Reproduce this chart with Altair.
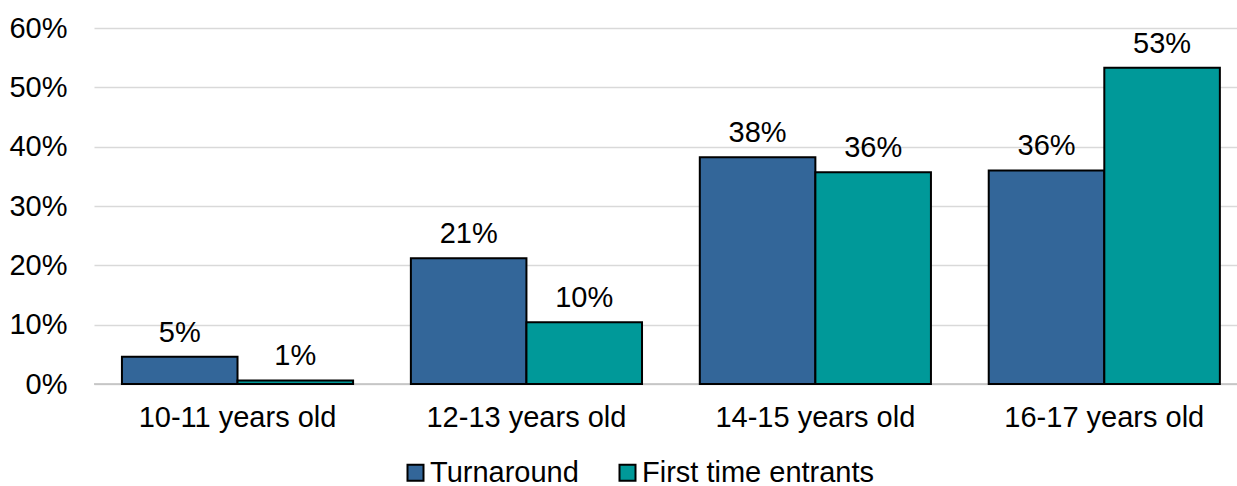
import altair as alt
import pandas as pd

# Share of each age group, by cohort
age_groups = ["10-11 years old", "12-13 years old", "14-15 years old", "16-17 years old"]
series = ["Turnaround", "First time entrants"]
turnaround = [0.046, 0.212, 0.382, 0.360]
first_time = [0.006, 0.104, 0.357, 0.533]
y_ticks = [0.0, 0.1, 0.2, 0.3, 0.4, 0.5, 0.6]
colors = ["#336699", "#009999"]

rows = []
for g, t, f in zip(age_groups, turnaround, first_time):
    rows.append({"age": g, "group": series[0], "share": t})
    rows.append({"age": g, "group": series[1], "share": f})
df = pd.DataFrame(rows)

FONT = "Liberation Sans"
FS = 29

x_scale = alt.Scale(paddingInner=0.2, paddingOuter=0.078, align=0.62)
y_scale = alt.Scale(domain=[0, 0.6], nice=False)
x_off = alt.XOffset("group:N", sort=series, scale=alt.Scale(paddingInner=0, paddingOuter=0))

x = alt.X(
    "age:N",
    sort=age_groups,
    title=None,
    scale=x_scale,
    axis=alt.Axis(
        labelAngle=0, labelPadding=19, grid=False, domain=False, ticks=False,
        labelFontSize=FS, labelFont=FONT, labelColor="#000000", labelLimit=400,
    ),
)
y = alt.Y(
    "share:Q",
    title=None,
    scale=y_scale,
    axis=alt.Axis(
        values=y_ticks, format=".0%", labelPadding=27, domain=False, ticks=False,
        labelFontSize=FS, labelFont=FONT, labelColor="#000000",
        grid=True, gridColor="#d9d9d9", gridWidth=1.5,
    ),
)
color = alt.Color(
    "group:N",
    sort=series,
    scale=alt.Scale(domain=series, range=colors),
    legend=alt.Legend(
        title=None, orient="none", direction="horizontal",
        legendX=307, legendY=430,
        symbolType="square", symbolSize=256, symbolStrokeColor="#000000",
        symbolStrokeWidth=2, symbolOpacity=1,
        labelFontSize=FS, labelFont=FONT, labelColor="#000000",
        labelLimit=400, labelOffset=0, columnPadding=34,
    ),
)

# Baseline at zero, a shade darker than the gridlines
zero = pd.DataFrame({"share": [0.0]})
baseline = alt.Chart(zero).mark_rule(color="#bfbfbf", strokeWidth=1.5).encode(
    y=alt.Y("share:Q", scale=y_scale)
)

bars = alt.Chart(df).mark_bar(stroke="#000000", strokeWidth=2).encode(
    x=x, xOffset=x_off, y=y, color=color
)
labels = alt.Chart(df).mark_text(
    fontSize=FS, font=FONT, color="#000000", baseline="alphabetic", dy=-15
).encode(
    x=alt.X("age:N", sort=age_groups, scale=x_scale),
    xOffset=x_off,
    y=alt.Y("share:Q", scale=y_scale),
    text=alt.Text("share:Q", format=".0%"),
)

chart = (
    alt.layer(baseline, bars, labels)
    .properties(
        width=1143, height=356,
        background="#ffffff",
        autosize=alt.AutoSizeParams(type="none"),
        padding={"left": 94, "top": 28, "right": 0, "bottom": 102},
    )
    .configure_view(strokeWidth=0, stroke="transparent")
    .configure_axis(
        domain=False, ticks=False, labelFontSize=FS, labelFont=FONT,
        labelColor="#000000", labelLimit=400,
    )
)

chart.save("out.html", embed_options={"renderer": "svg", "actions": False})
